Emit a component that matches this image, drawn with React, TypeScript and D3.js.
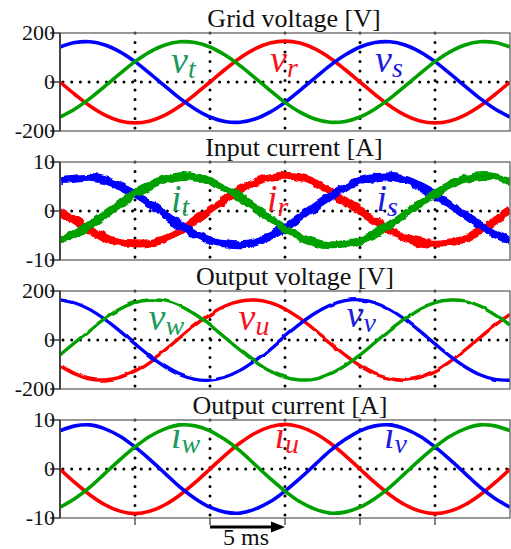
import React from 'react';
import * as d3 from 'd3';

// sample instants in ms
const times = [0, 1, 2, 3, 4, 5, 6, 7, 8, 9, 10, 11, 12, 13, 14, 15, 16, 17, 18, 19, 20, 21, 22, 23, 24, 25, 26, 27, 28, 29, 30];

// grid voltage [V]
const gridVoltageR = [0, -51, -98, -135, -159, -167, -159, -135, -98, -51, 0, 51, 98, 135, 159, 167, 159, 135, 98, 51, 0, -51, -98, -135, -159, -167, -159, -135, -98, -51, 0];
const gridVoltageS = [143, 161, 164, 151, 123, 83, 34, -17, -67, -110, -143, -161, -164, -151, -123, -83, -34, 17, 67, 110, 143, 161, 164, 151, 123, 83, 34, -17, -67, -110, -143];
const gridVoltageT = [-143, -110, -67, -17, 34, 83, 123, 151, 164, 161, 143, 110, 67, 17, -34, -83, -123, -151, -164, -161, -143, -110, -67, -17, 34, 83, 123, 151, 164, 161, 143];

// input current [A]
const inputCurrentR = [0, -2.0, -4.0, -5.5, -6.3, -6.6, -6.5, -5.7, -4.2, -2.0, 0.2, 2.3, 4.3, 5.9, 6.9, 7.2, 6.9, 5.8, 4.1, 2.1, 0, -2.1, -4.0, -5.5, -6.4, -6.7, -6.4, -5.6, -4.0, -2.0, 0.1];
const inputCurrentS = [6.3, 6.6, 6.8, 6.3, 5.0, 3.4, 1.4, -0.8, -2.9, -4.7, -6.0, -6.6, -6.8, -6.4, -5.1, -3.4, -1.3, 0.8, 2.9, 4.7, 6.1, 6.8, 7.0, 6.4, 5.1, 3.4, 1.3, -0.8, -2.9, -4.7, -6.1];
const inputCurrentT = [-6.0, -4.7, -2.8, -0.7, 1.5, 3.6, 5.3, 6.5, 7.1, 6.9, 6.1, 4.6, 2.7, 0.6, -1.5, -3.6, -5.3, -6.5, -7.0, -6.8, -6.0, -4.6, -2.8, -0.7, 1.5, 3.6, 5.3, 6.5, 7.1, 6.9, 6.1];

// output voltage [V]
const outputVoltageU = [-105, -139, -160, -163, -153, -127, -88, -41, 10, 61, 105, 139, 158, 163, 153, 127, 88, 41, -10, -61, -105, -139, -158, -164, -153, -127, -88, -41, 10, 61, 105];
const outputVoltageV = [164, 151, 124, 84, 36, -16, -66, -109, -142, -161, -164, -151, -124, -84, -36, 16, 66, 109, 142, 161, 164, 151, 124, 84, 36, -16, -66, -109, -142, -161, -164];
const outputVoltageW = [-61, -10, 41, 88, 127, 153, 163, 160, 139, 105, 61, 10, -41, -88, -127, -153, -163, -160, -139, -105, -61, -10, 41, 88, 127, 153, 163, 160, 139, 105, 61];

// output current [A]
const outputCurrentU = [0, -2.8, -5.3, -7.3, -8.6, -9.1, -8.6, -7.3, -5.3, -2.8, 0, 2.8, 5.3, 7.3, 8.6, 9.1, 8.6, 7.3, 5.3, 2.8, 0, -2.8, -5.3, -7.3, -8.6, -9.1, -8.6, -7.3, -5.3, -2.8, 0];
const outputCurrentV = [7.8, 8.8, 9.0, 8.2, 6.7, 4.5, 1.9, -0.9, -3.7, -6.0, -7.8, -8.8, -9.0, -8.2, -6.7, -4.5, -1.9, 0.9, 3.7, 6.0, 7.8, 8.8, 9.0, 8.2, 6.7, 4.5, 1.9, -0.9, -3.7, -6.0, -7.8];
const outputCurrentW = [-7.8, -6.0, -3.7, -0.9, 1.9, 4.5, 6.7, 8.2, 9.0, 8.8, 7.8, 6.0, 3.7, 0.9, -1.9, -4.5, -6.7, -8.2, -9.0, -8.8, -7.8, -6.0, -3.7, -0.9, 1.9, 4.5, 6.7, 8.2, 9.0, 8.8, 7.8];

const titles = ['Grid voltage [V]', 'Input current [A]', 'Output voltage [V]', 'Output current [A]'];
const voltageTicks = [-200, 0, 200];
const currentTicks = [-10, 0, 10];
const gridLinesMs = [5, 10, 15, 20, 25];
const bottomTicksMs = [5, 10, 15, 20, 25];
const scaleBarStart = 10, scaleBarLen = 5;
const scaleBarText = '5 ms';

const W = 511, H = 549;
const left = 60, right = 510, ph = 98;
const serif = "'Liberation Serif', 'Times New Roman', serif";

const lineColors = ['#ff0000', '#0000ff', '#00a000'];
const labelColors = ['#f5141e', '#1c1ce0', '#1a9a5c'];

const panels = [
  { top: 33, titleX: 294, title: titles[0], ticks: voltageTicks, series: [gridVoltageR, gridVoltageS, gridVoltageT], sym: 'v', subs: ['r', 's', 't'], labelAt: [[14.0, 41], [21.0, 41], [7.4, 37]], width: 3.6, filter: '' },
  { top: 162, titleX: 294, title: titles[1], ticks: currentTicks, series: [inputCurrentR, inputCurrentS, inputCurrentT], sym: 'i', subs: ['r', 's', 't'], labelAt: [[13.8, -0.1], [21.1, -0.1], [7.4, -0.1]], width: 8, filter: 'url(#noisy)' },
  { top: 291, titleX: 295, title: titles[2], ticks: voltageTicks, series: [outputVoltageU, outputVoltageV, outputVoltageW], sym: 'v', subs: ['u', 'v', 'w'], labelAt: [[11.9, 41], [19.1, 53], [5.9, 41]], width: 3.4, filter: 'url(#wobble)' },
  { top: 420, titleX: 290, title: titles[3], ticks: currentTicks, series: [outputCurrentU, outputCurrentV, outputCurrentW], sym: 'i', subs: ['u', 'v', 'w'], labelAt: [[14.3, 4.2], [21.6, 4.2], [7.4, 4.2]], width: 3.6, filter: '' },
];

export default function App() {
  const x = d3.scaleLinear().domain([0, 30]).range([left, right]);

  return (
    <svg width={W} height={H} viewBox={`0 0 ${W} ${H}`} style={{ position: 'absolute', left: 0, top: 0, background: '#fff' }}>
      <defs>
        <filter id="noisy" filterUnits="userSpaceOnUse" x="40" y="140" width="490" height="140">
          <feTurbulence type="fractalNoise" baseFrequency="0.09" numOctaves="3" seed="7" result="n" />
          <feDisplacementMap in="SourceGraphic" in2="n" scale="6" xChannelSelector="R" yChannelSelector="G" />
        </filter>
        <filter id="wobble" filterUnits="userSpaceOnUse" x="40" y="270" width="490" height="140">
          <feTurbulence type="fractalNoise" baseFrequency="0.05" numOctaves="2" seed="2" result="n" />
          <feDisplacementMap in="SourceGraphic" in2="n" scale="3" xChannelSelector="R" yChannelSelector="G" />
        </filter>
        {panels.map((p, pi) => (
          <clipPath id={`clip${pi}`} key={pi}>
            <rect x={left} y={p.top} width={right - left} height={ph} />
          </clipPath>
        ))}
      </defs>
      {panels.map((p, pi) => {
        const m = p.ticks[2];
        const y = d3.scaleLinear().domain([-m, m]).range([p.top + ph, p.top]);
        const line = d3.line<number>().x((_, i) => x(times[i])).y(d => y(d)).curve(d3.curveCatmullRom);
        return (
          <g key={pi}>
            <text x={p.titleX} y={p.top - 6} textAnchor="middle" fontFamily={serif} fontSize={26} fill="#111">{p.title}</text>
            {/* dotted grid */}
            {gridLinesMs.map(g => (
              <line key={g} x1={x(g)} x2={x(g)} y1={p.top} y2={p.top + ph} stroke="#000" strokeWidth={3} strokeLinecap="round" strokeDasharray="0 9.5" />
            ))}
            <line x1={x(0) + 3} x2={right} y1={y(0)} y2={y(0)} stroke="#000" strokeWidth={3} strokeLinecap="round" strokeDasharray="0 8.7" />
            {/* labels sit under the curves */}
            {p.subs.map((s, si) => (
              <text key={s} x={x(p.labelAt[si][0])} y={y(p.labelAt[si][1])} fontFamily={serif} fontStyle="italic" fill={labelColors[si]}>
                <tspan fontSize={38}>{p.sym}</tspan>
                <tspan fontSize={28} dy={5}>{s}</tspan>
              </text>
            ))}
            <g clipPath={`url(#clip${pi})`}>
              <g filter={p.filter || undefined}>
                {[0, 1, 2].map(si => (
                  <path key={si} d={line(p.series[si]) || ''} fill="none" stroke={lineColors[si]} strokeWidth={p.width} strokeLinejoin="round" />
                ))}
              </g>
            </g>
            {/* frame */}
            <rect x={left} y={p.top} width={right - left} height={ph} fill="none" stroke="#6e6e6e" strokeWidth={1.4} />
            <line x1={left} x2={left} y1={p.top} y2={p.top + ph} stroke="#333" strokeWidth={1.6} />
            {p.ticks.map(t => (
              <g key={t}>
                <line x1={left - 10} x2={left} y1={y(t)} y2={y(t)} stroke="#333" strokeWidth={1.4} />
                <text x={55} y={y(t) + 7} textAnchor="end" fontFamily={serif} fontSize={22} fill="#111">{t}</text>
              </g>
            ))}
          </g>
        );
      })}
      {/* bottom time ticks */}
      {bottomTicksMs.map(t => (
        <line key={t} x1={x(t)} x2={x(t)} y1={panels[3].top + ph} y2={panels[3].top + ph + 7} stroke="#333" strokeWidth={1.2} />
      ))}
      {/* 5 ms scale bar */}
      <g>
        <line x1={x(scaleBarStart)} x2={x(scaleBarStart + scaleBarLen) - 12} y1={527} y2={527} stroke="#000" strokeWidth={3} />
        <path d={`M${x(scaleBarStart + scaleBarLen)},527 L${x(scaleBarStart + scaleBarLen) - 14},521.5 L${x(scaleBarStart + scaleBarLen) - 14},532.5 Z`} fill="#000" />
        <text x={223} y={545} fontFamily={serif} fontSize={24} fill="#111">{scaleBarText}</text>
      </g>
    </svg>
  );
}
